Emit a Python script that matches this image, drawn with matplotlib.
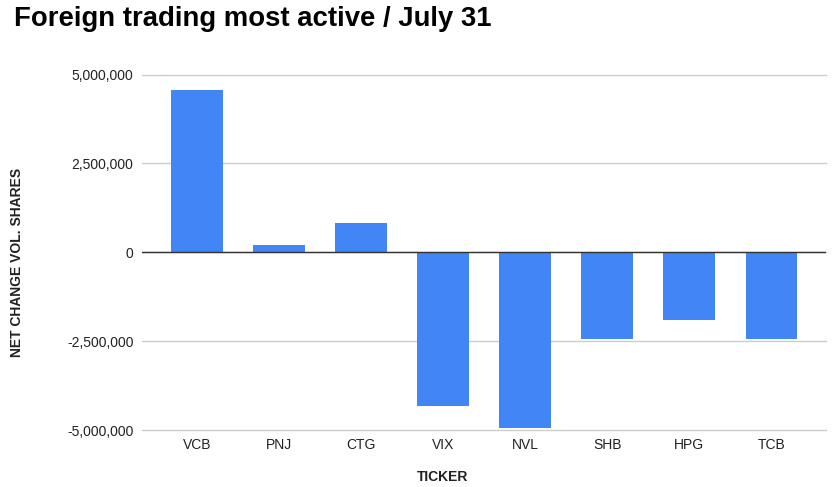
import matplotlib
matplotlib.use('Agg')
import matplotlib.pyplot as plt
from matplotlib.ticker import FuncFormatter

plt.rcParams['font.family'] = ['Liberation Sans', 'DejaVu Sans']

tickers = ['VCB', 'PNJ', 'CTG', 'VIX', 'NVL', 'SHB', 'HPG', 'TCB']
net_change = [4560000, 210000, 820000, -4330000, -4950000, -2440000, -1910000, -2450000]
y_ticks = [-5000000, -2500000, 0, 2500000, 5000000]

fig = plt.figure(figsize=(8.39, 4.87), dpi=100)
ax = fig.add_axes([0.169, 0.117, 0.816, 0.730])

ax.bar(range(len(tickers)), net_change, width=0.63, color='#4285F4', zorder=3)

ax.set_ylim(-5000000, 5000000)
ax.set_xlim(-0.67, 7.67)
ax.set_yticks(y_ticks)
ax.yaxis.set_major_formatter(FuncFormatter(lambda v, p: f'{int(v):,}'))
ax.set_xticks(range(len(tickers)))
ax.set_xticklabels(tickers)

ax.grid(axis='y', color='#cccccc', linewidth=1, zorder=0)
for gl in ax.get_ygridlines():
    gl.set_clip_on(False)
ax.axhline(0, color='#333333', linewidth=1, zorder=4)
for s in ax.spines.values():
    s.set_visible(False)
ax.tick_params(axis='both', length=0, labelsize=10, colors='#222222')
ax.tick_params(axis='y', pad=6)
ax.tick_params(axis='x', pad=6)

fig.text(0.017, 0.962, 'Foreign trading most active / July 31', fontsize=19.8,
         fontweight='bold', ha='left', va='center', color='#000000')
fig.text(0.528, 0.021, 'TICKER', fontsize=10, fontweight='bold',
         ha='center', va='center', color='#222222')
fig.text(0.020, 0.462, 'NET CHANGE VOL. SHARES', rotation=90, fontsize=10,
         fontweight='bold', ha='center', va='center', color='#222222')

fig.savefig('out.png', dpi=100)
